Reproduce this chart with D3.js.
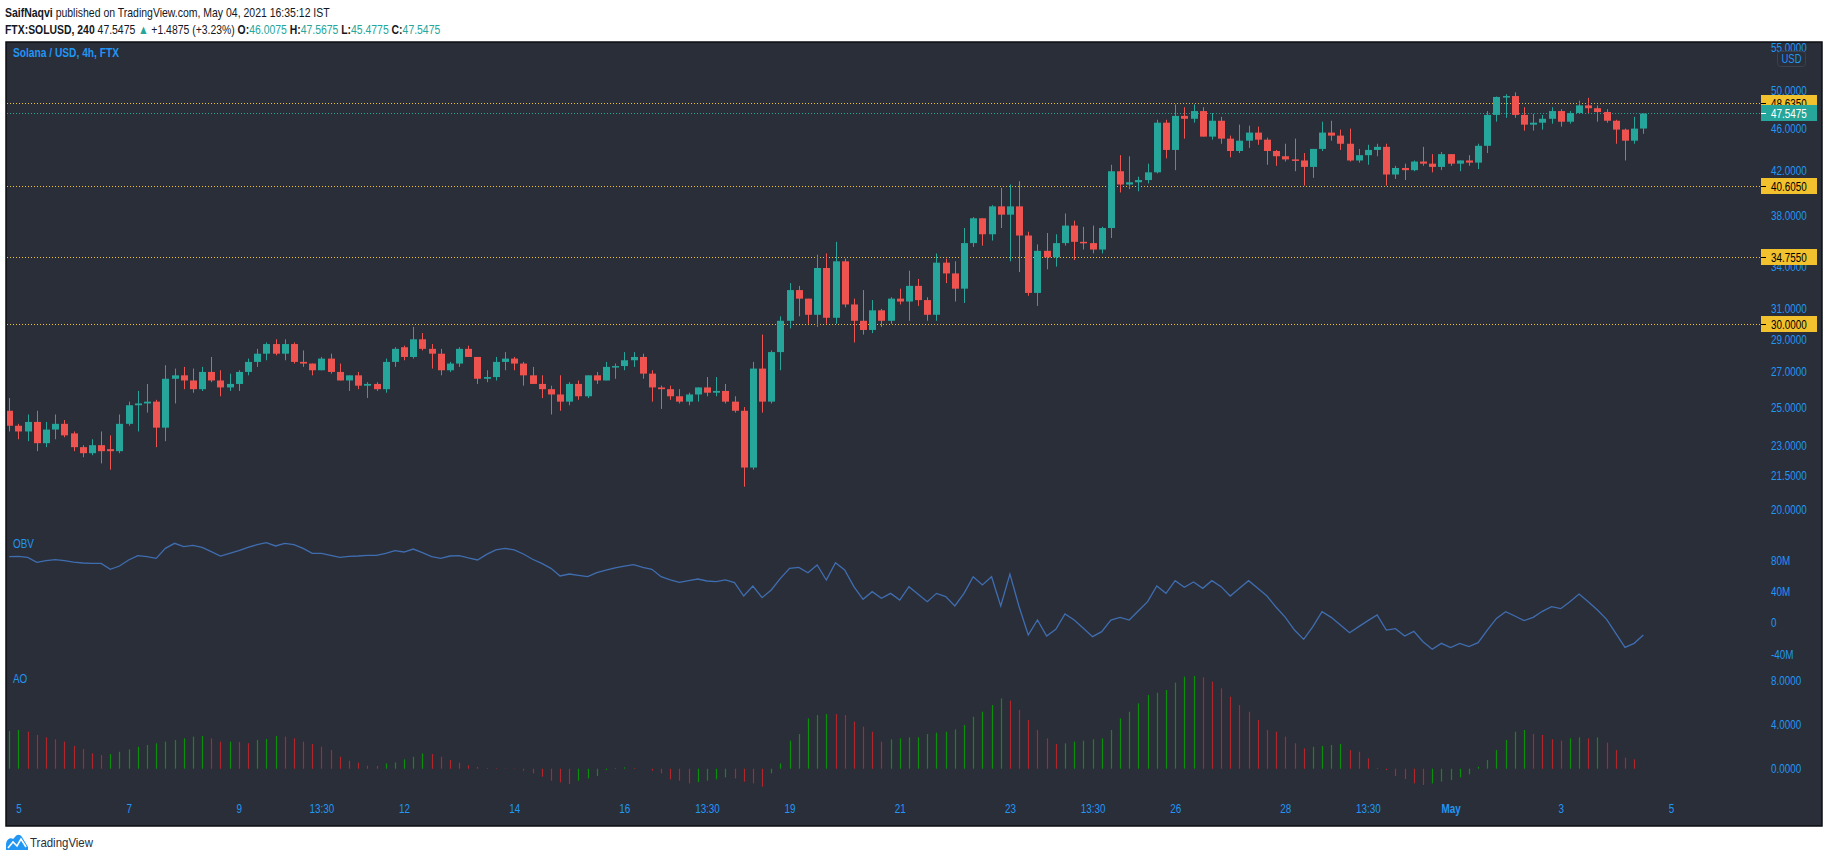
<!DOCTYPE html>
<html>
<head>
<meta charset="utf-8">
<script src="https://cdn.jsdelivr.net/npm/d3@7"></script>
<style>
  body { margin: 0; background: #ffffff; }
  svg { display: block; }
  text { font-family: 'Liberation Sans', Arial, sans-serif; }
</style>
</head>
<body>
<svg id="chart" width="1828" height="862"></svg>
<script>
// SOL/USD 4h (FTX) - velas [apertura, maximo, minimo, cierre]
const candleOHLC = [
  [24.8,25.5,23.7,24.0],[24.0,24.1,23.3,23.7],[23.7,24.6,23.2,24.2],[24.2,24.8,22.7,23.1],[23.1,24.2,22.9,23.8],
  [23.8,24.6,23.3,24.1],[24.1,24.3,23.4,23.5],[23.6,23.7,22.7,22.9],[22.9,23.0,22.4,22.6],[22.6,23.3,22.5,23.0],
  [23.0,23.7,22.1,22.7],[22.8,23.5,21.8,22.7],[22.7,24.6,22.6,24.1],[24.1,25.3,24.0,25.1],[25.1,25.9,23.7,25.2],
  [25.2,26.3,24.7,25.3],[25.3,25.4,22.9,23.9],[23.9,27.4,23.2,26.6],[26.6,27.2,25.2,26.8],[26.8,27.3,26.0,26.5],
  [26.5,27.2,25.8,26.0],[26.0,27.3,25.9,27.0],[27.0,27.9,26.4,26.5],[26.5,27.1,25.6,26.1],[26.1,26.9,25.9,26.3],
  [26.3,27.1,25.9,27.0],[27.0,27.8,26.8,27.6],[27.6,28.4,27.3,28.1],[28.1,28.8,27.7,28.7],[28.7,29.0,28.0,28.1],
  [28.1,29.0,27.7,28.7],[28.7,28.8,27.5,27.6],[27.6,28.3,27.3,27.5],[27.5,27.5,26.8,27.1],[27.1,27.9,27.1,27.8],
  [27.8,28.1,26.9,27.0],[27.0,27.5,26.5,26.5],[26.5,26.8,25.9,26.8],[26.8,27.0,26.0,26.2],[26.2,26.4,25.5,26.3],
  [26.3,26.4,25.9,26.0],[26.0,27.8,25.8,27.6],[27.6,28.5,27.3,28.4],[28.5,28.6,27.7,27.9],[27.9,29.8,27.8,29.0],
  [29.0,29.4,28.3,28.4],[28.4,28.7,27.2,28.1],[28.1,28.4,26.8,27.1],[27.1,27.6,27.0,27.5],[27.5,28.5,27.3,28.4],
  [28.4,28.6,27.9,27.9],[27.9,27.9,26.3,26.6],[26.6,27.1,26.4,26.7],[26.7,27.9,26.5,27.6],[27.6,28.2,27.1,27.8],
  [27.8,27.9,27.1,27.5],[27.5,27.6,26.2,26.8],[26.8,27.3,26.3,26.3],[26.3,26.8,25.5,26.0],[26.0,26.2,24.6,25.7],
  [25.7,26.8,24.8,25.3],[25.3,26.4,25.1,26.3],[26.3,26.5,25.4,25.6],[25.6,26.8,25.5,26.8],[26.8,27.0,26.3,26.5],
  [26.5,27.6,26.5,27.3],[27.3,27.5,26.6,27.35],[27.35,28.2,27.1,27.7],[27.7,28.2,27.3,27.9],[27.9,28.1,26.6,26.9],
  [26.9,27.1,25.3,26.1],[26.1,26.2,24.9,26.0],[26.0,26.2,25.4,25.6],[25.6,26.0,25.2,25.3],[25.3,25.8,25.1,25.7],
  [25.7,26.1,25.3,26.1],[26.1,26.7,25.6,25.8],[25.8,26.7,25.6,25.9],[25.9,26.3,25.2,25.3],[25.3,25.6,24.7,24.8],
  [24.8,25.0,21.0,21.9],[21.9,27.6,21.8,27.2],[27.2,29.3,24.7,25.3],[25.3,28.3,25.2,28.2],[28.2,30.5,27.1,30.2],
  [30.2,32.8,29.7,32.3],[32.3,32.6,30.5,31.7],[31.7,31.7,30.0,30.6],[30.6,34.9,29.8,33.9],[33.9,35.0,30.0,30.4],
  [30.4,35.9,30.0,34.4],[34.4,34.6,31.1,31.3],[31.3,31.7,28.8,30.2],[30.2,32.3,29.3,29.6],[29.6,31.6,29.4,30.9],
  [30.9,31.0,29.8,30.2],[30.2,31.8,30.0,31.7],[31.7,32.4,31.3,31.5],[31.5,33.7,30.2,32.6],[32.6,33.1,31.2,31.6],
  [31.6,31.8,30.2,30.6],[30.6,35.0,30.2,34.3],[34.3,34.6,32.8,33.5],[33.5,34.4,31.5,32.4],[32.4,37.0,31.4,35.8],
  [35.8,37.9,35.5,37.8],[37.8,37.8,35.6,36.5],[36.5,38.9,36.0,38.8],[38.8,40.4,37.0,38.1],[38.1,40.7,34.4,38.8],
  [38.8,41.0,33.6,36.4],[36.4,36.7,31.9,32.1],[32.1,35.7,31.2,35.2],[35.2,36.6,33.8,34.7],[34.7,36.5,34.0,35.8],
  [35.8,38.2,35.6,37.2],[37.2,37.6,34.5,35.9],[35.9,37.1,35.3,35.8],[35.8,37.2,35.0,35.3],[35.3,37.1,35.0,37.0],
  [37.0,42.5,36.2,41.9],[41.9,43.4,40.0,40.7],[40.7,43.3,40.3,40.9],[40.9,41.4,40.1,41.1],[41.1,42.6,40.8,41.8],
  [41.8,46.9,41.7,46.6],[46.6,46.9,43.1,43.9],[43.9,48.5,42.0,47.3],[47.3,48.2,45.0,47.0],[47.0,48.5,46.6,47.8],
  [47.8,48.2,45.2,45.2],[45.2,47.6,44.9,46.8],[46.8,47.2,44.5,45.0],[45.0,45.3,43.2,43.8],[43.8,46.4,43.6,44.8],
  [44.8,46.3,44.1,45.6],[45.6,46.2,44.4,44.9],[44.9,45.1,42.5,43.8],[43.8,43.9,42.4,43.3],[43.3,44.5,42.8,43.0],
  [43.0,45.0,41.9,42.9],[42.9,43.6,40.6,42.3],[42.3,44.0,41.3,44.0],[44.0,46.7,43.8,45.6],[45.6,46.8,44.8,45.3],
  [45.3,45.9,43.9,44.5],[44.5,46.0,42.8,42.9],[42.9,44.0,42.7,43.4],[43.4,44.4,42.5,43.9],[43.9,44.5,43.3,44.2],
  [44.2,44.5,40.6,41.6],[41.6,42.4,41.2,42.2],[42.2,42.6,41.1,42.0],[42.0,42.9,41.9,42.8],[42.8,44.2,42.4,42.6],
  [42.6,43.5,41.8,42.3],[42.3,43.7,42.0,43.5],[43.5,43.5,42.4,42.6],[42.6,42.9,41.9,42.9],[42.9,43.4,42.4,42.7],
  [42.7,44.5,42.1,44.3],[44.3,47.8,43.6,47.4],[47.4,49.35,46.7,49.3],[49.3,49.6,47.1,49.4],[49.4,49.8,47.1,47.4],
  [47.4,48.2,45.8,46.4],[46.4,47.5,45.8,46.6],[46.6,47.4,45.9,47.0],[47.0,48.2,46.5,47.8],[47.8,48.0,46.2,46.7],
  [46.7,47.8,46.5,47.6],[47.6,48.9,47.6,48.4],[48.4,49.2,47.6,48.1],[48.1,48.4,46.7,47.7],[47.7,48.0,46.6,46.8],
  [46.8,46.9,44.5,45.9],[45.9,46.0,42.9,44.8],[44.8,47.2,44.5,46.0],[46.0075,47.5675,45.4775,47.5475]
];

// OBV en millones, una lectura por vela
const obvValues = [
  84.3,84.7,83.4,77.0,79.1,80.4,79.1,77.4,76.2,75.7,75.7,68.1,72.3,80.0,85.5,84.3,82.1,94.9,101.3,97.0,
  98.7,96.2,90.6,85.1,88.5,91.9,96.2,99.6,102.1,97.9,101.3,99.6,94.9,88.5,88.5,86.0,83.4,84.7,85.1,86.0,
  86.0,88.5,91.9,90.2,94.0,89.4,84.3,82.1,85.1,85.5,82.6,80.0,87.2,92.8,94.9,92.8,87.7,80.9,75.7,69.4,
  59.6,62.1,60.4,58.7,63.8,67.2,69.8,72.3,74.0,70.6,68.1,58.7,54.5,51.5,53.6,55.7,53.2,52.3,54.5,51.1,
  34.0,46.8,31.9,41.7,56.6,69.4,70.6,63.8,73.6,54.5,76.6,67.2,46.0,29.8,39.6,31.1,37.4,28.9,46.0,36.2,
  26.8,37.4,33.2,21.3,37.4,58.7,48.1,58.7,21.3,62.1,20.4,-15.7,3.4,-17.0,-8.5,11.1,3.4,-7.2,-17.9,-11.5,
  3.4,6.8,3.4,15.3,26.8,46.8,37.4,53.6,45.1,51.9,43.8,53.6,46.0,34.0,43.8,53.6,43.8,34.0,19.6,6.8,
  -9.4,-21.3,-5.1,14.0,6.8,-3.0,-12.8,-5.1,2.6,9.8,-9.4,-7.7,-17.0,-11.1,-24.3,-34.0,-26.4,-31.9,-26.4,-30.6,
  -25.5,-9.4,5.5,14.0,8.5,2.6,6.8,14.5,20.4,17.9,26.8,36.6,26.8,16.2,4.3,-13.6,-31.5,-26.4,-15.7
];

// Awesome Oscillator, una lectura por vela
const aoValues = [
  3.40,3.49,3.34,3.04,2.83,2.65,2.44,2.05,1.77,1.38,1.23,1.32,1.53,1.74,1.98,2.14,2.29,2.44,2.59,2.74,
  2.89,2.95,2.74,2.44,2.44,2.40,2.29,2.59,2.68,2.95,2.89,2.74,2.44,2.23,1.98,1.68,1.08,0.72,0.54,0.27,
  0.24,0.48,0.57,0.84,1.08,1.38,1.32,1.08,0.78,0.54,0.30,0.15,0.06,0.05,0.03,-0.03,-0.18,-0.42,-0.72,-1.08,
  -1.23,-1.38,-1.08,-0.87,-0.66,-0.12,0.06,0.12,0.06,0.00,-0.18,-0.42,-0.96,-1.08,-1.32,-1.20,-1.08,-0.96,-0.78,-0.87,
  -1.17,-1.32,-1.62,-0.42,0.48,2.53,3.13,4.54,4.84,4.93,4.92,4.84,4.24,3.79,3.34,2.44,2.65,2.74,2.83,2.84,
  3.13,3.25,3.34,3.55,3.94,4.69,5.14,5.74,6.35,6.14,5.29,4.39,3.49,2.74,2.23,2.29,2.44,2.53,2.65,2.74,
  3.49,4.54,5.14,5.89,6.65,6.86,7.10,7.76,8.30,8.36,8.24,7.85,7.25,6.50,5.74,5.14,4.39,3.49,3.34,2.89,
  2.29,1.83,1.98,2.05,2.14,2.23,1.68,1.53,0.93,0.06,-0.12,-0.66,-0.93,-1.32,-1.47,-1.32,-1.17,-1.02,-0.78,-0.51,
  0.18,0.78,1.68,2.59,3.34,3.49,3.13,3.04,2.65,2.53,2.74,2.83,2.74,2.83,2.35,1.68,0.99,0.84
];

// niveles horizontales dibujados a mano
const levelPrices = [48.635, 40.605, 34.755, 30.0];
const lastPrice = 47.5475;

// ejes
const priceTicks = [55, 50, 46, 42, 38, 34, 31, 29, 27, 25, 23, 21.5, 20];
const obvTicks = [80, 40, 0, -40];
const aoTicks = [8, 4, 0];
const timeTickIdx = [1, 13, 25, 34, 43, 55, 67, 76, 85, 97, 109, 118, 127, 139, 148, 157, 169, 181];
const timeLabels = ['5', '7', '9', '13:30', '12', '14', '16', '13:30', '19', '21', '23', '13:30', '26', '28', '13:30', 'May', '3', '5'];

// cabecera: trozos [texto, negrita, color]
const headerLine1 = [['SaifNaqvi', true, null], [' published on TradingView.com, May 04, 2021 16:35:12 IST', false, null]];
const headerLine2 = [
  ['FTX:SOLUSD, 240', true, null], [' 47.5475 ', false, null], ['▲', false, 'up'], [' +1.4875 (+3.23%) ', false, null],
  ['O:', true, null], ['46.0075', false, 'up'], [' H:', true, null], ['47.5675', false, 'up'],
  [' L:', true, null], ['45.4775', false, 'up'], [' C:', true, null], ['47.5475', false, 'up']
];

const UP = '#26a69a', DOWN = '#ef5350', BLUE = '#2196f3', BG = '#2a2e39', LEVEL = '#f2c12e';
const PLOT_R = 1761;
const NARROW = 0.79;   // la fuente de TradingView es estrecha

const svg = d3.select('#chart');

// estrecha un texto ajustando textLength
function condense(sel, k) {
  sel.each(function() {
    const len = this.getComputedTextLength();
    d3.select(this).attr('textLength', len * k).attr('lengthAdjust', 'spacingAndGlyphs');
  });
}
function fitWidth(sel, w) {
  sel.attr('textLength', w).attr('lengthAdjust', 'spacingAndGlyphs');
}

// linea de cabecera: un solo texto con tspans, estrechado con una escala horizontal
function headerLine(parts, x0, y, width) {
  const g = svg.append('g');
  const t = g.append('text')
    .attr('x', 0).attr('y', y)
    .attr('fill', '#131722')
    .style('font-size', '13px')
    .style('white-space', 'pre');
  parts.forEach(([txt, bold, col]) => {
    t.append('tspan')
      .attr('fill', col === 'up' ? UP : '#131722')
      .style('font-weight', bold ? 'bold' : 'normal')
      .text(txt);
  });
  const k = width / t.node().getComputedTextLength();
  g.attr('transform', `translate(${x0},0) scale(${k},1)`);
}

// escalas
const x = d3.scaleLinear().domain([0, 178]).range([9.3, 9.3 + 178 * 9.18]);
const yP = d3.scaleLog().domain([20, 55]).range([509, 47]);
const yObv = d3.scaleLinear().domain([-40, 80]).range([654, 560]);
const yAo = d3.scaleLinear().domain([0, 8]).range([768.7, 680]);

// fondo del grafico
svg.append('rect')
  .attr('x', 6).attr('y', 42).attr('width', 1816).attr('height', 784)
  .attr('fill', BG).attr('stroke', '#0c0e12').attr('stroke-width', 1.5);

svg.append('clipPath').attr('id', 'plot-clip')
  .append('rect').attr('x', 7).attr('y', 43).attr('width', PLOT_R - 7).attr('height', 782);

const gPlot = svg.append('g').attr('clip-path', 'url(#plot-clip)');

// lineas de nivel
gPlot.selectAll('.level')
  .data(levelPrices)
  .enter().append('line')
  .attr('x1', 7).attr('x2', PLOT_R)
  .attr('y1', d => Math.round(yP(d)) + 0.5).attr('y2', d => Math.round(yP(d)) + 0.5)
  .attr('stroke', LEVEL).attr('stroke-width', 1).attr('stroke-dasharray', '1,2');

gPlot.append('line')
  .attr('x1', 7).attr('x2', PLOT_R)
  .attr('y1', Math.round(yP(lastPrice)) + 0.5).attr('y2', Math.round(yP(lastPrice)) + 0.5)
  .attr('stroke', UP).attr('stroke-width', 1).attr('stroke-dasharray', '1,2');

// velas
const candles = gPlot.selectAll('.candle')
  .data(candleOHLC)
  .enter().append('g')
  .attr('class', 'candle');

candles.append('line')
  .attr('x1', (d, i) => Math.round(x(i)) + 0.5)
  .attr('x2', (d, i) => Math.round(x(i)) + 0.5)
  .attr('y1', d => yP(d[1]))
  .attr('y2', d => yP(d[2]))
  .attr('stroke', d => d[3] >= d[0] ? UP : DOWN)
  .attr('stroke-width', 1);

candles.append('rect')
  .attr('x', (d, i) => Math.round(x(i)) - 3)
  .attr('width', 7)
  .attr('y', d => yP(Math.max(d[0], d[3])))
  .attr('height', d => Math.max(1.5, Math.abs(yP(d[0]) - yP(d[3]))))
  .attr('fill', d => d[3] >= d[0] ? UP : DOWN);

// OBV
const obvLine = d3.line()
  .x((d, i) => x(i))
  .y(d => yObv(d));

gPlot.append('path')
  .datum(obvValues)
  .attr('d', obvLine)
  .attr('fill', 'none')
  .attr('stroke', '#3f6db0')
  .attr('stroke-width', 1.3);

// AO
gPlot.selectAll('.ao')
  .data(aoValues)
  .enter().append('line')
  .attr('x1', (d, i) => Math.round(x(i)) + 0.5)
  .attr('x2', (d, i) => Math.round(x(i)) + 0.5)
  .attr('y1', yAo(0))
  .attr('y2', d => yAo(d))
  .attr('stroke', (d, i) => (i === 0 || d >= aoValues[i - 1]) ? '#0b8f0b' : '#b0262a')
  .attr('stroke-width', 1.2);

// ejes
function styleAxis(g) {
  g.select('.domain').remove();
  g.selectAll('text')
    .attr('fill', BLUE)
    .style('font-size', '12.5px')
    .style('font-family', "'Liberation Sans', Arial, sans-serif")
    .call(condense, NARROW);
}

svg.append('g')
  .attr('transform', 'translate(1768,0)')
  .call(d3.axisRight(yP).tickValues(priceTicks).tickFormat(d3.format('.4f')).tickSize(0).tickPadding(3))
  .call(styleAxis);

svg.append('g')
  .attr('transform', 'translate(1768,0)')
  .call(d3.axisRight(yObv).tickValues(obvTicks).tickFormat(d => d === 0 ? '0' : d + 'M').tickSize(0).tickPadding(3))
  .call(styleAxis);

svg.append('g')
  .attr('transform', 'translate(1768,0)')
  .call(d3.axisRight(yAo).tickValues(aoTicks).tickFormat(d3.format('.4f')).tickSize(0).tickPadding(3))
  .call(styleAxis);

const timeAxis = svg.append('g')
  .attr('transform', 'translate(0,801)')
  .call(d3.axisBottom(x).tickValues(timeTickIdx).tickFormat((d, i) => timeLabels[i]).tickSize(0).tickPadding(3));
timeAxis.selectAll('text').filter(d => d === 157).style('font-weight', 'bold');
timeAxis.call(styleAxis);

// etiquetas de precio en el eje
const tags = levelPrices.map(p => ({ p: p, fill: LEVEL, color: '#000' }))
  .concat([{ p: lastPrice, fill: UP, color: '#fff' }]);

const tagG = svg.selectAll('.tag')
  .data(tags)
  .enter().append('g')
  .attr('transform', d => `translate(1761,${Math.round(yP(d.p))})`);

tagG.append('rect')
  .attr('x', 0).attr('y', -8).attr('width', 56).attr('height', 16)
  .attr('fill', d => d.fill);
tagG.append('line')
  .attr('x1', 0).attr('x2', 5).attr('y1', 0.5).attr('y2', 0.5)
  .attr('stroke', d => d.color);
tagG.append('text')
  .attr('x', 10).attr('y', 4.5)
  .attr('fill', d => d.color)
  .style('font-size', '12.5px')
  .text(d => d.p.toFixed(4))
  .call(condense, NARROW);

// caja USD
svg.append('rect')
  .attr('x', 1777.5).attr('y', 51.5).attr('width', 28).attr('height', 15).attr('rx', 3)
  .attr('fill', BG).attr('stroke', '#3b404d');
svg.append('text')
  .attr('x', 1791.5).attr('y', 63).attr('text-anchor', 'middle')
  .attr('fill', BLUE).style('font-size', '12px').text('USD')
  .call(condense, NARROW);

// titulos de paneles
svg.append('text').attr('x', 13).attr('y', 57)
  .attr('fill', BLUE).style('font-size', '13px').style('font-weight', 'bold')
  .text('Solana / USD, 4h, FTX')
  .call(fitWidth, 106);
svg.append('text').attr('x', 13).attr('y', 548)
  .attr('fill', BLUE).style('font-size', '12.5px').text('OBV')
  .call(condense, NARROW);
svg.append('text').attr('x', 13).attr('y', 683)
  .attr('fill', BLUE).style('font-size', '12.5px').text('AO')
  .call(condense, NARROW);

// cabecera
headerLine(headerLine1, 5, 17, 325);
headerLine(headerLine2, 5, 34, 436);

// logo TradingView
const logo = svg.append('g').attr('transform', 'translate(6,834)');
logo.append('path')
  .attr('d', 'M0,16 L0,11 C0,6 4,3 7,5 L9,3 C11,0 14,0 16,3 L22,13 L22,16 Z')
  .attr('fill', BLUE);
logo.append('path')
  .attr('d', 'M2,14 L7,8 L11,12 L15,5 L20,13')
  .attr('fill', 'none').attr('stroke', '#fff').attr('stroke-width', 1.6);
svg.append('text').attr('x', 30).attr('y', 847)
  .attr('fill', '#2a2e39').style('font-size', '13.5px').text('TradingView')
  .call(fitWidth, 63);
</script>
</body>
</html>
